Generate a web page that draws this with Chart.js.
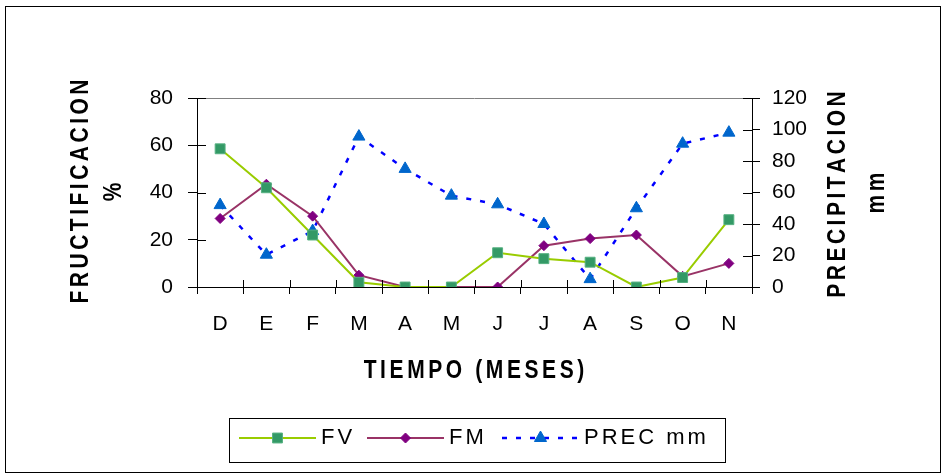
<!DOCTYPE html>
<html>
<head>
<meta charset="utf-8">
<script src="https://cdn.jsdelivr.net/npm/chart.js@4/dist/chart.umd.min.js"></script>
<style>
  html, body { margin: 0; padding: 0; background: #fff; }
  #wrap { width: 943px; height: 476px; position: relative; }
</style>
</head>
<body>
<div id="wrap"><canvas id="c" width="943" height="476"></canvas></div>
<script>
// Months (December to November)
const months = ['D', 'E', 'F', 'M', 'A', 'M', 'J', 'J', 'A', 'S', 'O', 'N'];
// Fructificación verde (%)
const fv = [58.5, 42, 22, 2, 0, 0, 14.5, 12, 10.5, 0, 4, 28.5];
// Fructificación madura (%)
const fm = [29, 43.5, 30, 5, 0, 0, 0, 17.5, 20.5, 22, 4.5, 10];
// Precipitación (mm)
const prec = [52, 20.5, 35.5, 95.5, 75, 58, 52.5, 40, 5, 50, 91, 98];
// Axis ranges and labels
const leftTicks = { min: 0, max: 80, step: 20 };
const rightTicks = { min: 0, max: 120, step: 20 };
const seriesNames = ['FV', 'FM', 'PREC mm'];
const titleX = 'TIEMPO (MESES)';
const titleLeft = ['FRUCTIFICACION', '%'];
const titleRight = ['PRECIPITACION', 'mm'];

const FONT = '"Liberation Sans", Arial, sans-serif';

// draws text one glyph at a time with extra spacing, centred on (x, y)
function spacedText(ctx, text, x, y, spacing) {
  const chars = [...text];
  const widths = chars.map(ch => ctx.measureText(ch).width);
  const total = widths.reduce((a, b) => a + b, 0) + spacing * (chars.length - 1);
  let cx = x - total / 2;
  ctx.textAlign = 'left';
  chars.forEach((ch, i) => {
    ctx.fillText(ch, cx, y);
    cx += widths[i] + spacing;
  });
  return total;
}
function spacedWidth(ctx, text, spacing) {
  const chars = [...text];
  return chars.reduce((a, ch) => a + ctx.measureText(ch).width, 0) + spacing * (chars.length - 1);
}

// frame, plot border, inner tick halves, axis titles and legend
const decorations = {
  id: 'decorations',
  beforeDraw(chart) {
    const ctx = chart.ctx;
    ctx.save();
    ctx.fillStyle = '#fff';
    ctx.fillRect(0, 0, chart.width, chart.height);
    ctx.restore();
  },
  afterDraw(chart) {
    const ctx = chart.ctx;
    const a = chart.chartArea;
    const sx = chart.scales.x, sy = chart.scales.y, sy1 = chart.scales.y1;
    ctx.save();

    // outer frame
    ctx.strokeStyle = '#000';
    ctx.lineWidth = 1;
    ctx.strokeRect(5.5, 6.5, 935, 466);

    // top edge of the plot area
    ctx.strokeStyle = '#808080';
    ctx.beginPath();
    ctx.moveTo(a.left, Math.round(a.top) + 0.5);
    ctx.lineTo(a.right, Math.round(a.top) + 0.5);
    ctx.stroke();

    // tick marks crossing into the plot
    ctx.strokeStyle = '#000';
    ctx.beginPath();
    sy.ticks.forEach(t => {
      const p = Math.round(sy.getPixelForValue(t.value)) + 0.5;
      ctx.moveTo(a.left, p); ctx.lineTo(a.left + 9, p);
    });
    sy1.ticks.forEach(t => {
      const p = Math.round(sy1.getPixelForValue(t.value)) + 0.5;
      ctx.moveTo(a.right - 9, p); ctx.lineTo(a.right, p);
    });
    const n = months.length;
    for (let i = 0; i <= n; i++) {
      const p = Math.round(sx.left + (sx.right - sx.left) * i / n) + 0.5;
      ctx.moveTo(p, a.bottom - 7); ctx.lineTo(p, a.bottom);
    }
    ctx.stroke();

    // axis titles
    ctx.fillStyle = '#000';
    ctx.textBaseline = 'middle';
    ctx.font = 'bold 21px ' + FONT;

    ctx.save();
    ctx.translate(474, 371);
    ctx.scale(1, 1.25);
    spacedText(ctx, titleX, 0, 0, 3.6);
    ctx.restore();

    const vTitle = (text, x, y) => {
      ctx.save();
      ctx.translate(x, y);
      ctx.rotate(-Math.PI / 2);
      ctx.scale(1, 1.25);
      spacedText(ctx, text, 0, 0, 3.5);
      ctx.restore();
    };
    vTitle(titleLeft[0], 81, 191.5);
    vTitle(titleLeft[1], 114, 192);
    vTitle(titleRight[0], 838, 194.5);
    vTitle(titleRight[1], 877, 193);

    // legend
    const box = { x: 229.5, y: 418.5, w: 496, h: 44 };
    ctx.strokeStyle = '#000';
    ctx.lineWidth = 1;
    ctx.strokeRect(box.x, box.y, box.w, box.h);
    const ly = 438;
    const lineStarts = [239, 367, 502];
    const lineLen = 77;
    ctx.font = '22px ' + FONT;
    chart.data.datasets.forEach((ds, i) => {
      const x0 = lineStarts[i];
      ctx.save();
      ctx.strokeStyle = ds.borderColor;
      ctx.lineWidth = ds.borderWidth;
      ctx.setLineDash(ds.borderDash || []);
      ctx.beginPath();
      ctx.moveTo(x0, ly);
      ctx.lineTo(x0 + lineLen, ly);
      ctx.stroke();
      ctx.restore();
      ctx.save();
      ctx.fillStyle = ds.pointBackgroundColor;
      ctx.strokeStyle = ds.pointBorderColor;
      ctx.lineWidth = ds.pointBorderWidth;
      Chart.helpers.drawPoint(ctx, {
        pointStyle: ds.pointStyle, radius: ds.pointRadius, borderWidth: ds.pointBorderWidth, rotation: 0
      }, x0 + lineLen / 2, ly);
      ctx.restore();
      ctx.fillStyle = '#000';
      ctx.textBaseline = 'middle';
      const tw = spacedWidth(ctx, ds.label, 3);
      spacedText(ctx, ds.label, x0 + lineLen + 5 + tw / 2, ly, 3);
    });

    ctx.restore();
  }
};

const tickFont = { family: FONT, size: 21 };

new Chart(document.getElementById('c'), {
  type: 'line',
  data: {
    labels: months,
    datasets: [
      {
        label: seriesNames[0],
        data: fv,
        yAxisID: 'y',
        borderColor: '#99CC00',
        borderWidth: 2,
        pointStyle: 'rect',
        pointRadius: 7,
        pointBackgroundColor: '#339966',
        pointBorderColor: '#55B080',
        pointBorderWidth: 1,
        tension: 0,
        order: 0
      },
      {
        label: seriesNames[1],
        data: fm,
        yAxisID: 'y',
        borderColor: '#993366',
        borderWidth: 2,
        pointStyle: 'rectRot',
        pointRadius: 5,
        pointBackgroundColor: '#800080',
        pointBorderColor: '#800080',
        pointBorderWidth: 1,
        tension: 0,
        order: 1
      },
      {
        label: seriesNames[2],
        data: prec,
        yAxisID: 'y1',
        borderColor: '#0000FF',
        borderWidth: 2.5,
        borderDash: [5, 9],
        pointStyle: 'triangle',
        pointRadius: 7,
        pointBackgroundColor: '#0066CC',
        pointBorderColor: '#0066CC',
        pointBorderWidth: 1,
        tension: 0,
        order: 2
      }
    ]
  },
  options: {
    responsive: false,
    animation: false,
    devicePixelRatio: 1,
    layout: { padding: { top: 98, bottom: 129, left: 0, right: 0 } },
    plugins: { legend: { display: false }, tooltip: { enabled: false } },
    elements: { point: { hoverRadius: 7 } },
    scales: {
      x: {
        type: 'category',
        offset: true,
        grid: { offset: true, drawOnChartArea: false, tickLength: 7, color: '#000', tickWidth: 1 },
        border: { display: true, color: '#000', width: 1 },
        ticks: { font: tickFont, color: '#000', padding: 18, maxRotation: 0, autoSkip: false },
        afterFit(s) { s.height = 60; }
      },
      y: {
        position: 'left',
        min: leftTicks.min,
        max: leftTicks.max,
        grid: { drawOnChartArea: false, tickLength: 9, color: '#000' },
        border: { display: true, color: '#000', width: 1 },
        ticks: { stepSize: leftTicks.step, font: tickFont, color: '#000', padding: 15 },
        afterFit(s) { s.width = 197; }
      },
      y1: {
        position: 'right',
        min: rightTicks.min,
        max: rightTicks.max,
        grid: { drawOnChartArea: false, tickLength: 8, color: '#000' },
        border: { display: true, color: '#000', width: 1 },
        ticks: { stepSize: rightTicks.step, font: tickFont, color: '#000', padding: 12 },
        afterFit(s) { s.width = 191; }
      }
    }
  },
  plugins: [decorations]
});
</script>
</body>
</html>
